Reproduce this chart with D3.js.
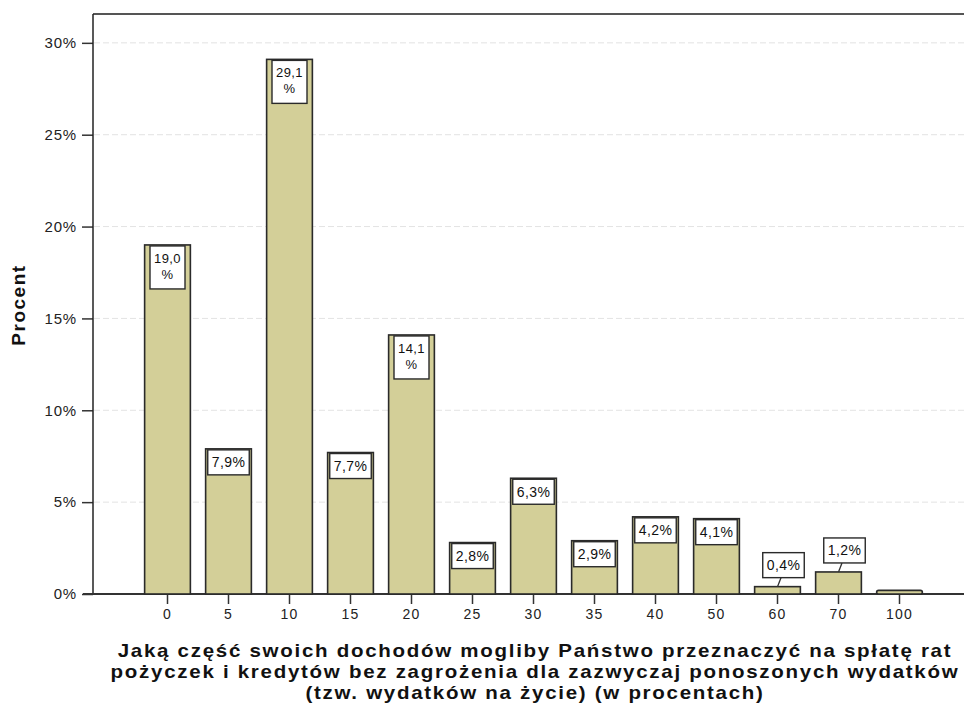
<!DOCTYPE html>
<html>
<head>
<meta charset="utf-8">
<script src="https://cdn.jsdelivr.net/npm/d3@7"></script>
<style>
    body { margin: 0; background: #fff; }
    text { font-family: "Liberation Sans", Arial, sans-serif; }
</style>
</head>
<body>
<div id="container"></div>
<script>
const categories = ["0", "5", "10", "15", "20", "25", "30", "35", "40", "50", "60", "70", "100"];
const percents = [19.0, 7.9, 29.1, 7.7, 14.1, 2.8, 6.3, 2.9, 4.2, 4.1, 0.4, 1.2, 0.2];
const yTicks = [0, 5, 10, 15, 20, 25, 30];
const yTitle = "Procent";
const xTitleLines = [
    "Jaką część swoich dochodów mogliby Państwo przeznaczyć na spłatę rat",
    "pożyczek i kredytów bez zagrożenia dla zazwyczaj ponoszonych wydatków",
    "(tzw. wydatków na życie) (w procentach)"
];

const width = 964, height = 709;
const margin = ({top: 14, right: 0, bottom: 115, left: 93});
const minLabelled = 0.3; // smallest bar that still gets a label

const svg = d3.select("#container").append("svg")
    .attr("width", width)
    .attr("height", height);

const y = d3.scaleLinear()
    .domain([0, 31.57])
    .range([height - margin.bottom, margin.top]);

const x = d3.scaleBand()
    .domain(categories)
    .range([137, 930])
    .paddingInner(0.25)
    .paddingOuter(0.125);

const fmt = v => d3.format(".1f")(v).replace(".", ",") + "%";

// grid
svg.append("g")
    .selectAll("line")
    .data(yTicks.slice(1))
    .join("line")
    .attr("x1", margin.left + 1)
    .attr("x2", width)
    .attr("y1", d => y(d))
    .attr("y2", d => y(d))
    .attr("stroke", "#e3e3e3")
    .attr("stroke-dasharray", "6,3");

// y axis
const yAxis = svg.append("g")
    .attr("transform", `translate(${margin.left},0)`)
    .call(d3.axisLeft(y).tickValues(yTicks).tickSize(11).tickPadding(5).tickFormat(d => d + "%"));
yAxis.select(".domain").remove();
yAxis.selectAll(".tick line").attr("stroke", "#333").attr("stroke-width", 1.5);
yAxis.selectAll(".tick text")
    .attr("font-size", 15)
    .attr("fill", "#222")
    .style("letter-spacing", "0.8px")
    .style("font-family", "'Liberation Sans', Arial, sans-serif");

// x axis
const xAxis = svg.append("g")
    .attr("transform", `translate(0,${y(0)})`)
    .call(d3.axisBottom(x).tickSize(10).tickPadding(5));
xAxis.select(".domain").remove();
xAxis.selectAll(".tick line").attr("stroke", "#333").attr("stroke-width", 1.5);
xAxis.selectAll(".tick text")
    .attr("font-size", 14)
    .attr("fill", "#222")
    .style("letter-spacing", "1.2px")
    .style("font-family", "'Liberation Sans', Arial, sans-serif");

// frame lines
svg.append("line")
    .attr("x1", margin.left).attr("x2", width)
    .attr("y1", margin.top).attr("y2", margin.top)
    .attr("stroke", "#555").attr("stroke-width", 2);
svg.append("line")
    .attr("x1", margin.left).attr("x2", margin.left)
    .attr("y1", margin.top).attr("y2", y(0))
    .attr("stroke", "#222").attr("stroke-width", 1.5);
svg.append("line")
    .attr("x1", 83).attr("x2", width)
    .attr("y1", y(0)).attr("y2", y(0))
    .attr("stroke", "#333").attr("stroke-width", 1.8);

// bars
svg.append("g")
    .selectAll("rect")
    .data(percents)
    .join("rect")
    .attr("x", (d, i) => x(categories[i]))
    .attr("y", d => y(d))
    .attr("width", x.bandwidth())
    .attr("height", d => y(0) - y(d))
    .attr("rx", d => d < minLabelled ? 2 : 0)
    .attr("fill", "#d3cf98")
    .attr("stroke", "#2a2a2a")
    .attr("stroke-width", 1.6);

// value labels
const labelGroup = svg.append("g");
percents.forEach((v, i) => {
    if (v < minLabelled) return;
    const cx = x(categories[i]) + x.bandwidth() / 2;
    const top = y(v);
    const g = labelGroup.append("g");
    const txt = fmt(v);

    const probe = g.append("text").attr("font-size", 14).style("letter-spacing", "0.4px").text(txt);
    const tw = probe.node().getComputedTextLength();
    probe.remove();

    let lines = [txt];
    if (tw + 6 > x.bandwidth() - 4) lines = [txt.slice(0, -1), "%"];
    const boxH = lines.length === 1 ? 25 : 43;
    let boxW = lines.length === 1 ? tw + 8 : 35;
    const fs = lines.length === 1 ? 14 : 13;

    let bx = cx, by = top + 1;
    const inside = (y(0) - top) > boxH + 4;
    if (!inside) {
        bx = cx + 6;
        by = top - 9 - boxH;
        g.append("line")
            .attr("x1", cx + 3.5).attr("y1", by + boxH)
            .attr("x2", cx).attr("y2", top)
            .attr("stroke", "#333").attr("stroke-width", 1.3);
    }

    g.append("rect")
        .attr("x", bx - boxW / 2)
        .attr("y", by)
        .attr("width", boxW)
        .attr("height", boxH)
        .attr("fill", "#fff")
        .attr("stroke", "#2a2a2a")
        .attr("stroke-width", 1.4);

    g.selectAll("text.lbl")
        .data(lines)
        .join("text")
        .attr("class", "lbl")
        .attr("x", bx)
        .attr("y", (d, k) => by + (lines.length === 1 ? 17.5 : 17 + k * 16))
        .attr("text-anchor", "middle")
        .attr("font-size", fs)
        .attr("fill", "#111")
        .style("letter-spacing", "0.4px")
        .text(d => d);
});

// axis titles
svg.append("text")
    .attr("transform", `translate(25,${305}) rotate(-90)`)
    .attr("text-anchor", "middle")
    .attr("font-size", 19)
    .attr("font-weight", "bold")
    .style("letter-spacing", "1.5px")
    .attr("fill", "#111")
    .text(yTitle);

// x title is a little wider than its height would suggest
svg.append("g")
    .attr("transform", "translate(535,0) scale(1.14,1)")
    .selectAll("text")
    .data(xTitleLines)
    .join("text")
    .attr("x", 0)
    .attr("y", (d, i) => 657 + i * 21)
    .attr("text-anchor", "middle")
    .attr("font-size", 18)
    .attr("font-weight", "bold")
    .style("letter-spacing", "1.5px")
    .attr("fill", "#111")
    .text(d => d);
</script>
</body>
</html>
